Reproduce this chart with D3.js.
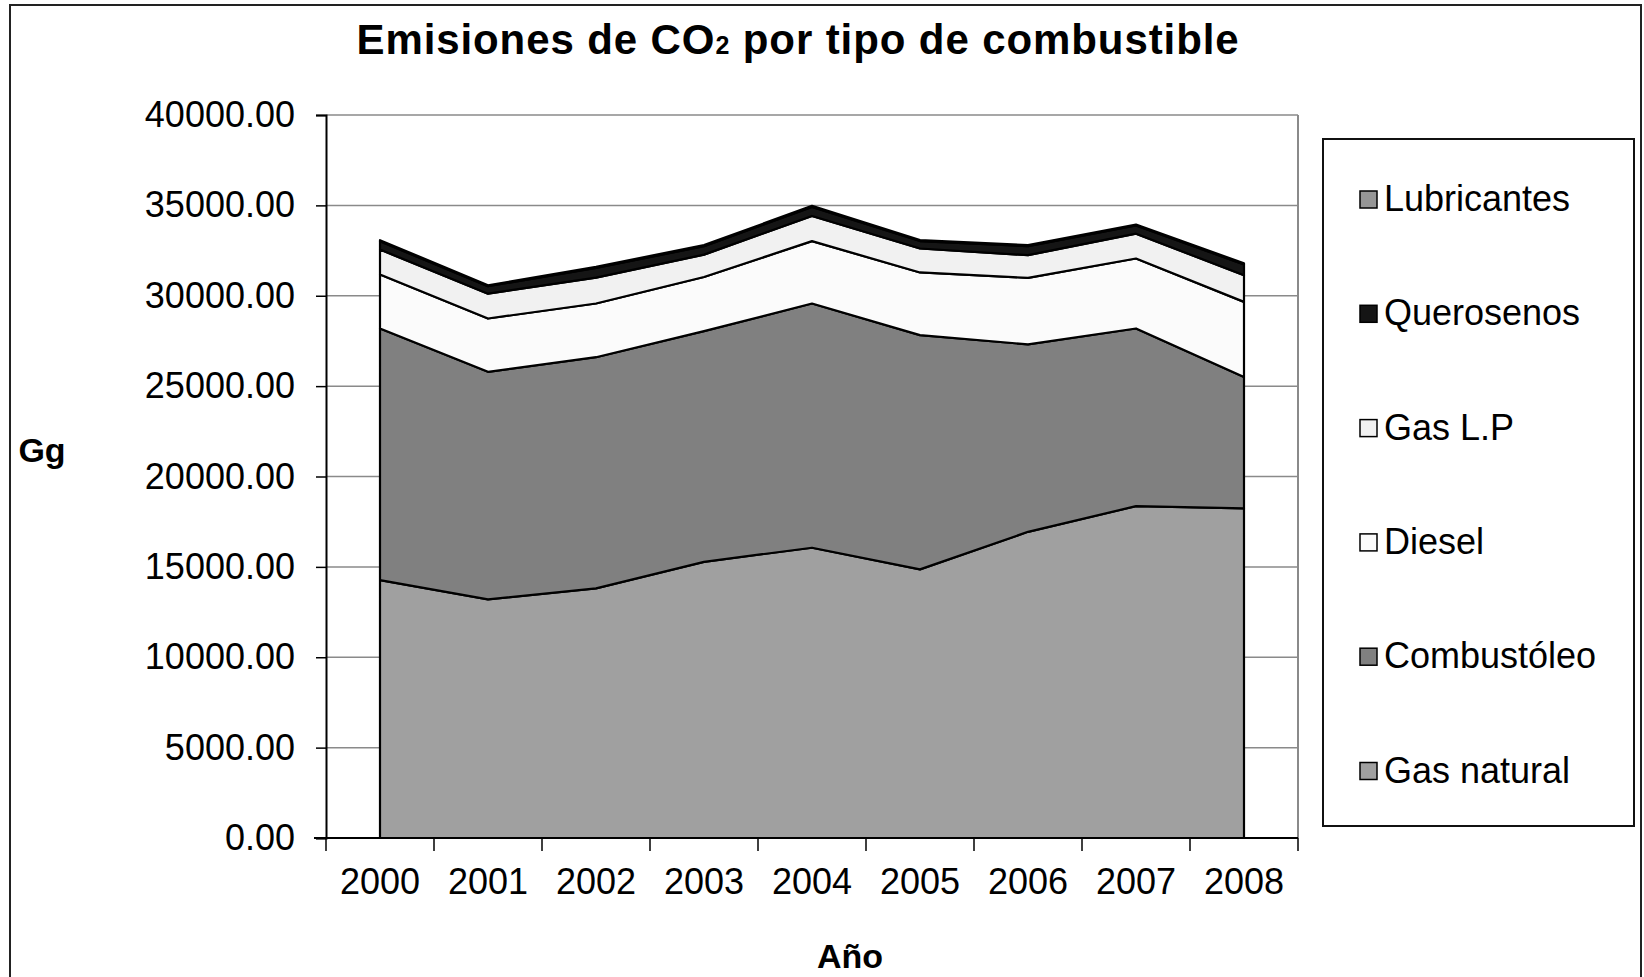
<!DOCTYPE html>
<html>
<head>
<meta charset="utf-8">
<script src="https://cdn.jsdelivr.net/npm/d3@7"></script>
<style>
  html, body { margin: 0; padding: 0; background: #ffffff; }
  svg { display: block; }
  text { font-family: "Liberation Sans", Arial, Helvetica, sans-serif; fill: #000; }
</style>
</head>
<body>
<svg id="chart" width="1644" height="977"></svg>
<script>
// ---------- data ----------
const years = ["2000", "2001", "2002", "2003", "2004", "2005", "2006", "2007", "2008"];
const gasNatural  = [14270, 13200, 13810, 15280, 16060, 14860, 16940, 18360, 18240];
const combustoleo = [13920, 12590, 12790, 12760, 13510, 12960, 10370, 9830, 7270];
const diesel      = [2990, 2950, 2970, 3000, 3450, 3470, 3680, 3870, 4150];
const gasLP       = [1375, 1375, 1435, 1235, 1395, 1325, 1255, 1375, 1475];
const querosenos  = [460, 410, 540, 465, 500, 410, 500, 450, 600];
const lubricantes = [60, 55, 60, 60, 60, 55, 60, 55, 60];
const seriesNames = ["Gas natural", "Combustóleo", "Diesel", "Gas L.P", "Querosenos", "Lubricantes"];
const yTicks = [0, 5000, 10000, 15000, 20000, 25000, 30000, 35000, 40000];

const seriesValues = [gasNatural, combustoleo, diesel, gasLP, querosenos, lubricantes];
const colors = {
  "Gas natural": "#a0a0a0",
  "Combustóleo": "#808080",
  "Diesel": "#fbfbfb",
  "Gas L.P": "#f1f1f1",
  "Querosenos": "#151515",
  "Lubricantes": "#969696"
};

const rows = years.map((y, i) => {
  const r = { year: y };
  seriesNames.forEach((n, k) => r[n] = seriesValues[k][i]);
  return r;
});

// ---------- layout ----------
const svg = d3.select("#chart");
const plot = { left: 326, right: 1298, top: 115, bottom: 838 };

const x = d3.scaleBand().domain(years).range([plot.left, plot.right]).padding(0);
const xc = d => x(d) + x.bandwidth() / 2;
const y = d3.scaleLinear().domain([0, 40000]).range([plot.bottom, plot.top]);

// outer border
svg.append("rect")
  .attr("x", 10).attr("y", 5).attr("width", 1631).attr("height", 1000)
  .attr("fill", "#fff").attr("stroke", "#222").attr("stroke-width", 2);

// title
const title = svg.append("text")
  .attr("x", 798).attr("y", 54)
  .attr("text-anchor", "middle")
  .style("font-weight", "bold").style("font-size", "42px")
  .style("letter-spacing", "0.9px");
title.append("tspan").text("Emisiones de CO");
title.append("tspan").text("2").style("font-size", "25px");
title.append("tspan").text(" por tipo de combustible");

// gridlines
svg.append("g")
  .selectAll("line")
  .data(yTicks.filter(t => t > 0))
  .join("line")
  .attr("x1", plot.left).attr("x2", plot.right)
  .attr("y1", d => y(d)).attr("y2", d => y(d))
  .attr("stroke", "#8a8a8a").attr("stroke-width", 1.5);

// plot area right border
svg.append("line")
  .attr("x1", plot.right).attr("x2", plot.right)
  .attr("y1", plot.top).attr("y2", plot.bottom)
  .attr("stroke", "#8a8a8a").attr("stroke-width", 2);

// stacked areas
const stack = d3.stack().keys(seriesNames);
const stacked = stack(rows);
const area = d3.area()
  .x(d => xc(d.data.year))
  .y0(d => y(d[0]))
  .y1(d => y(d[1]));

svg.append("g")
  .selectAll("path")
  .data(stacked)
  .join("path")
  .attr("d", area)
  .attr("fill", d => colors[d.key])
  .attr("stroke", "#000")
  .attr("stroke-width", 2.2)
  .attr("stroke-linejoin", "round");

// y axis
const yAxis = d3.axisLeft(y)
  .tickValues(yTicks)
  .tickFormat(d3.format(".2f"))
  .tickSize(10)
  .tickPadding(21);
const gy = svg.append("g")
  .attr("transform", `translate(${plot.left},0)`)
  .call(yAxis);
gy.select(".domain").attr("stroke", "#000").attr("stroke-width", 2);
gy.selectAll(".tick line").attr("stroke", "#000").attr("stroke-width", 1.5);
gy.selectAll(".tick text")
  .style("font-size", "36px")
  .style("font-family", "'Liberation Sans', Arial, sans-serif")
  .attr("fill", "#000");

// x axis (labels at band centers)
const xAxis = d3.axisBottom(x).tickSize(0).tickPadding(30);
const gx = svg.append("g")
  .attr("transform", `translate(0,${plot.bottom})`)
  .call(xAxis);
gx.select(".domain").remove();
gx.selectAll(".tick text")
  .style("font-size", "36px")
  .style("font-family", "'Liberation Sans', Arial, sans-serif")
  .attr("fill", "#000");

// x axis line and boundary ticks
svg.append("line")
  .attr("x1", plot.left - 12).attr("x2", plot.right)
  .attr("y1", plot.bottom).attr("y2", plot.bottom)
  .attr("stroke", "#000").attr("stroke-width", 2);
const boundaries = years.map(d => x(d)).concat([x(years[years.length - 1]) + x.bandwidth()]);
svg.append("g")
  .selectAll("line")
  .data(boundaries)
  .join("line")
  .attr("x1", d => d).attr("x2", d => d)
  .attr("y1", plot.bottom).attr("y2", plot.bottom + 13)
  .attr("stroke", "#000").attr("stroke-width", 1.5);

// axis titles
svg.append("text")
  .attr("x", 42).attr("y", 462)
  .attr("text-anchor", "middle")
  .style("font-weight", "bold").style("font-size", "34px")
  .text("Gg");
svg.append("text")
  .attr("x", 850).attr("y", 968)
  .attr("text-anchor", "middle")
  .style("font-weight", "bold").style("font-size", "34px")
  .text("Año");

// legend
const legendBox = { x: 1323, y: 139, w: 311, h: 687 };
svg.append("rect")
  .attr("x", legendBox.x).attr("y", legendBox.y)
  .attr("width", legendBox.w).attr("height", legendBox.h)
  .attr("fill", "#fff").attr("stroke", "#111").attr("stroke-width", 2);

const legendOrder = seriesNames.slice().reverse();
const lg = svg.append("g")
  .selectAll("g")
  .data(legendOrder)
  .join("g")
  .attr("transform", (d, i) => `translate(1360,${199 + i * 114.3})`);
lg.append("rect")
  .attr("x", 0).attr("y", -8).attr("width", 17).attr("height", 17)
  .attr("fill", d => colors[d])
  .attr("stroke", "#000").attr("stroke-width", 1.5);
lg.append("text")
  .attr("x", 24).attr("y", 12)
  .style("font-size", "36px")
  .text(d => d);
</script>
</body>
</html>
